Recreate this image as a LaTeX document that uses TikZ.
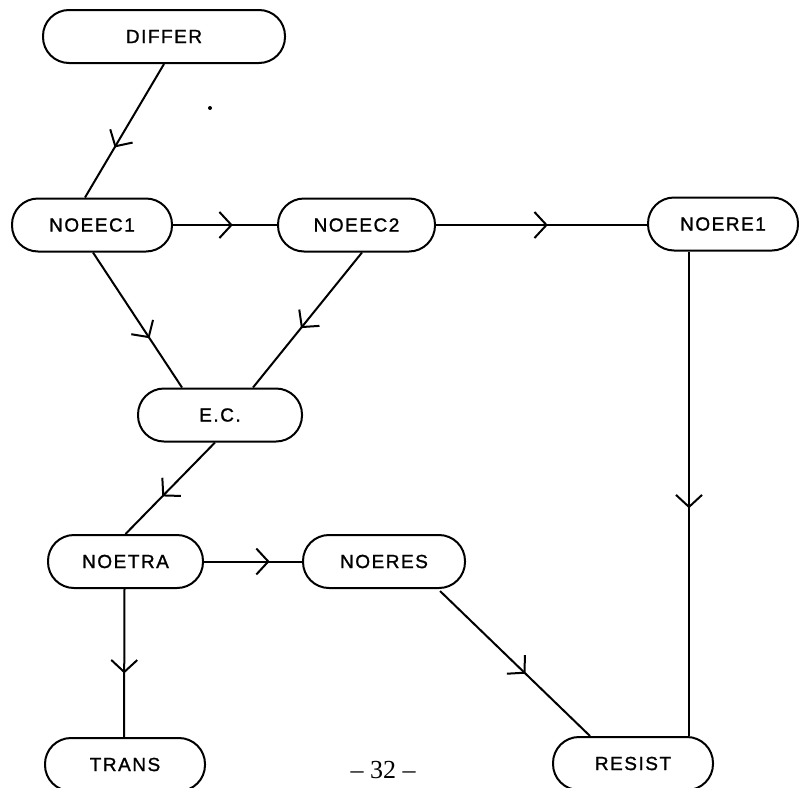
\documentclass[tikz,border=0pt]{standalone}
\usepackage{fontspec}
\newfontfamily\boxfont[LetterSpace=8,FakeBold=1.2]{Liberation Sans}
\newfontfamily\pagefont{Liberation Serif}
\usetikzlibrary{arrows.meta,decorations.markings}
\tikzset{
  box/.style={draw, line width=2pt, rectangle, rounded corners=26pt,
    minimum height=53pt, inner sep=0pt, font=\boxfont\fontsize{19}{19}\selectfont},
  conn/.style={line width=2pt},
  midarrow/.style={conn, postaction={decorate}, decoration={markings,
    mark=at position #1 with {\arrow{Straight Barb[length=12pt,width=26pt,line width=2pt]}}}}
}
\begin{document}
\begin{tikzpicture}[x=1pt,y=-1pt]
\useasboundingbox (0,0) rectangle (799,787);
\node[box, minimum width=242pt] (differ) at (164,36.5) {DIFFER};
\node[box, minimum width=160pt] (noeec1) at (92,225) {NOEEC1};
\node[box, minimum width=157pt] (noeec2) at (356.5,225) {NOEEC2};
\node[box, minimum width=150pt] (noere1) at (723,224) {NOERE1};
\node[box, minimum width=164pt] (ec) at (220,415) {E.C.};
\node[box, minimum width=155pt] (noetra) at (125.5,561.5) {NOETRA};
\node[box, minimum width=162pt] (noeres) at (384,561.5) {NOERES};
\node[box, minimum width=160pt] (trans) at (125,764.5) {TRANS};
\node[box, minimum width=160pt] (resist) at (633,763.5) {RESIST};
\node[font=\pagefont\fontsize{26}{26}\selectfont, inner sep=0pt] (page) at (383,770) {– 32 –};
\fill (210,108) circle (2pt);
\draw[midarrow=0.625] (differ.south) -- ([xshift=-7pt]noeec1.north);
\draw[midarrow=0.575] (noeec1.east) -- (noeec2.west);
\draw[midarrow=0.53] (noeec2.east) -- (noeec2.east -| noere1.west);
\draw[midarrow=0.635] ([xshift=1pt]noeec1.south) -- ([xshift=-38pt]ec.north);
\draw[midarrow=0.56] ([xshift=5.5pt]noeec2.south) -- ([xshift=33pt]ec.north);
\draw[midarrow=0.59] ([xshift=-5pt]ec.south) -- (noetra.north);
\draw[midarrow=0.67] (noetra.east) -- (noeres.west);
\draw[midarrow=0.57] ([xshift=-1pt]noetra.south) -- ([xshift=-1pt]trans.north);
\draw[midarrow=0.57] ([xshift=56pt,yshift=-2pt]noeres.south) -- ([xshift=-43pt]resist.north);
\draw[midarrow=0.53] ([xshift=-34pt]noere1.south) -- ([xshift=56pt]resist.north);
\end{tikzpicture}
\end{document}
